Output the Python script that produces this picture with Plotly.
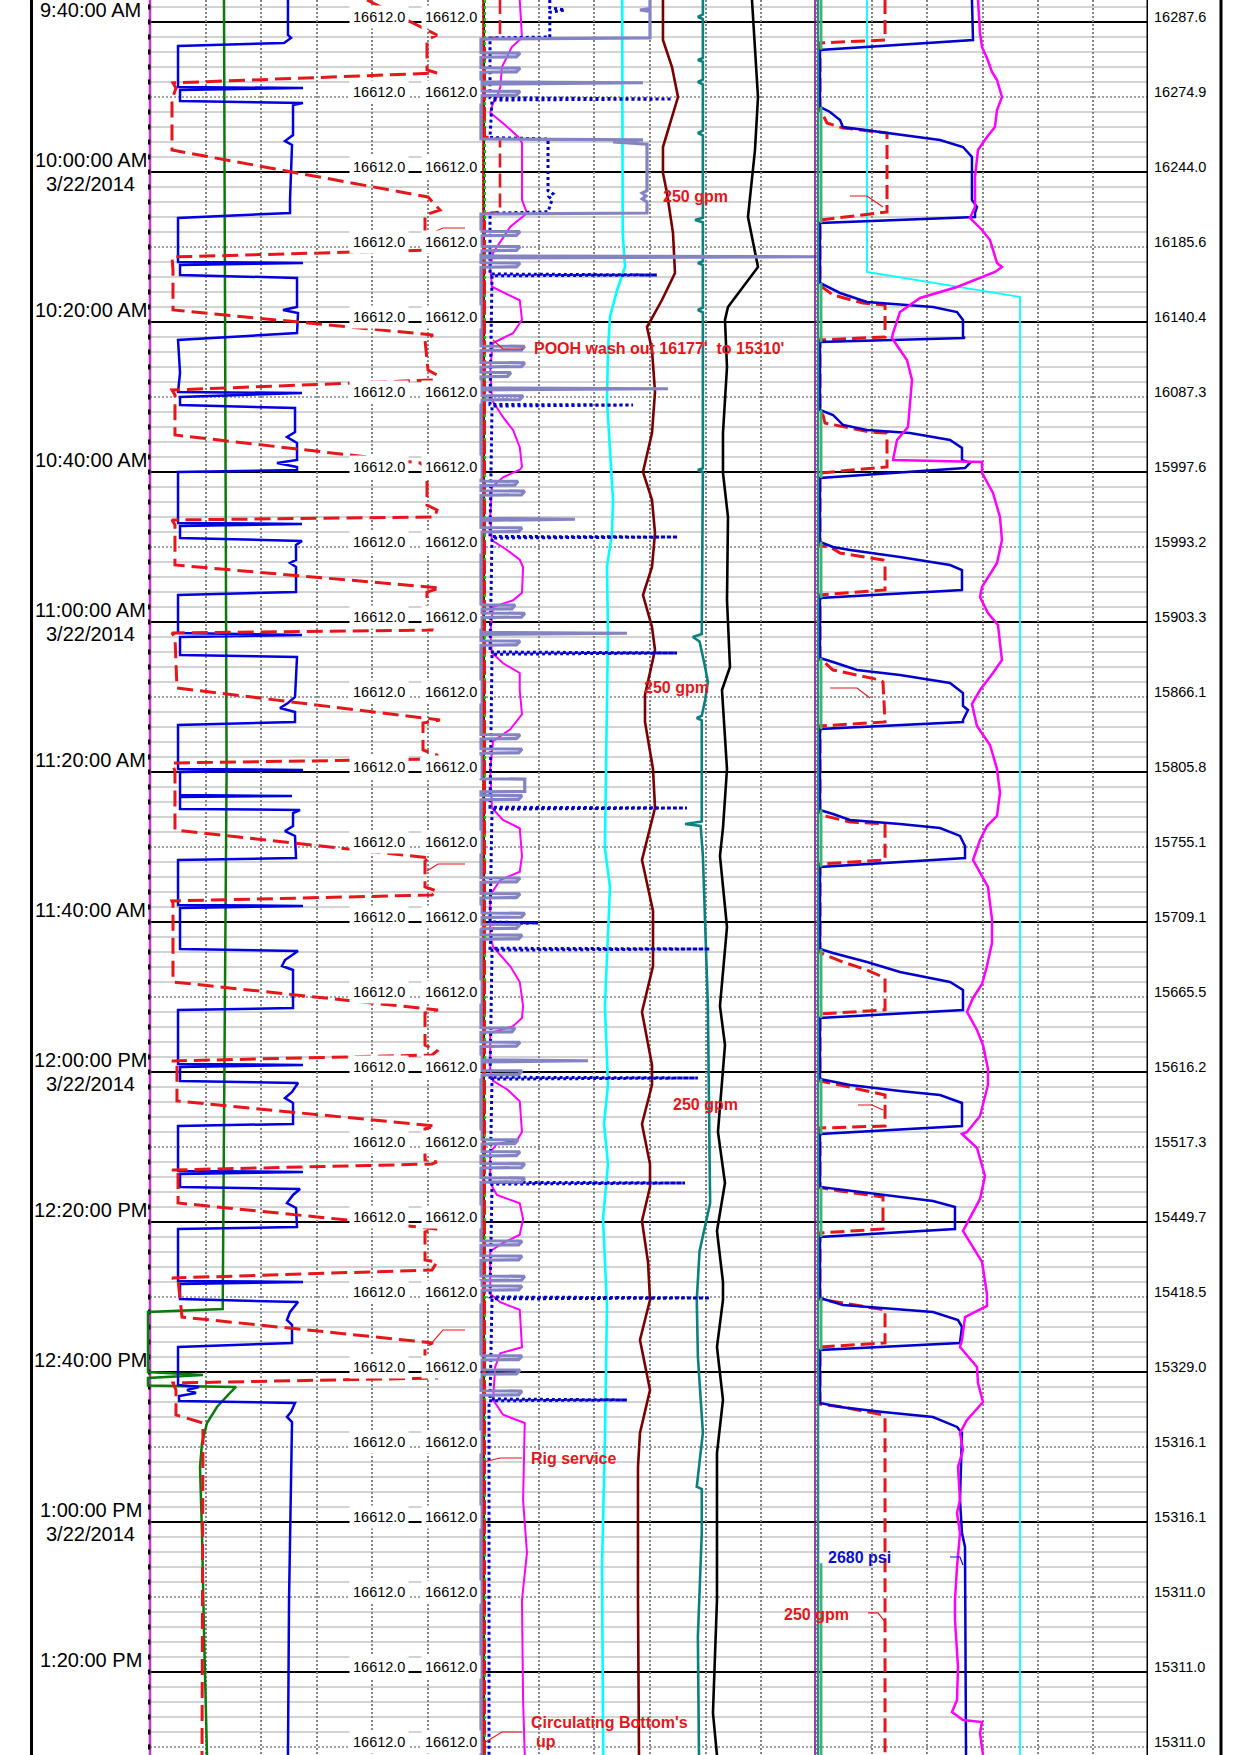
import plotly.graph_objects as go

# ---------------------------------------------------------------------------
# Time is expressed in minutes after 9:40:00 AM (3/22/2014); the page shows
# roughly 9:37 AM .. 1:31 PM.  Each track uses 0-60 units (10 per grid division).
# ---------------------------------------------------------------------------
T_TOP = -2.933
T_BOTTOM = 231.07

time_label_min = [0, 20, 40, 60, 80, 100, 120, 140, 160, 180, 200, 220]
time_label_text = ["9:40:00 AM", "10:00:00 AM", "10:20:00 AM", "10:40:00 AM",
                   "11:00:00 AM", "11:20:00 AM", "11:40:00 AM", "12:00:00 PM",
                   "12:20:00 PM", "12:40:00 PM", "1:00:00 PM", "1:20:00 PM"]
date_label_text = ["", "3/22/2014", "", "", "3/22/2014", "", "", "3/22/2014",
                   "", "", "3/22/2014", ""]

depth_label_min = [0, 10, 20, 30, 40, 50, 60, 70, 80, 90, 100, 110, 120, 130,
                   140, 150, 160, 170, 180, 190, 200, 210, 220, 230]
bit_depth = [16287.6, 16274.9, 16244.0, 16185.6, 16140.4, 16087.3, 15997.6,
             15993.2, 15903.3, 15866.1, 15805.8, 15755.1, 15709.1, 15665.5,
             15616.2, 15517.3, 15449.7, 15418.5, 15329.0, 15316.1, 15316.1,
             15311.0, 15311.0, 15311.0]
hole_depth_a = [16612.0, 16612.0, 16612.0, 16612.0, 16612.0, 16612.0, 16612.0,
                16612.0, 16612.0, 16612.0, 16612.0, 16612.0, 16612.0, 16612.0,
                16612.0, 16612.0, 16612.0, 16612.0, 16612.0, 16612.0, 16612.0,
                16612.0, 16612.0, 16612.0]
hole_depth_b = [16612.0, 16612.0, 16612.0, 16612.0, 16612.0, 16612.0, 16612.0,
                16612.0, 16612.0, 16612.0, 16612.0, 16612.0, 16612.0, 16612.0,
                16612.0, 16612.0, 16612.0, 16612.0, 16612.0, 16612.0, 16612.0,
                16612.0, 16612.0, 16612.0]

# ---------------------------- Track 1 curves (minute, value) ---------------
trk1_edge = [(T_TOP, 0.0), (T_BOTTOM, 0.0)]

trk1_green = [(-2.93, 13.33), (40, 13.5), (80, 13.6), (100, 13.8), (130, 13.5),
              (160, 13.3), (171.6, 13.1), (172.0, -0.36), (180.0, -0.36),
              (180.4, 9.55), (180.8, -0.36), (181.8, -0.36), (182.0, 15.5),
              (182.8, 14.41), (184.67, 12.07), (186.8, 10.27), (189.47, 9.37),
              (192.67, 9.01), (201.47, 9.37), (214.8, 9.73), (231.07, 10.27)]

trk1_blue = [(-2.93, 24.86), (1.73, 24.86), (2.13, 25.41), (2.8, 24.14), (3.2, 5.05),
             (8.67, 5.05), (8.8, 27.57), (9.07, 5.41), (10.53, 5.41), (10.8, 27.57),
             (11.07, 25.77), (15.07, 25.77), (15.87, 24.32), (16.4, 25.59),
             (23.73, 25.23), (25.47, 25.23), (26.13, 5.05), (32.0, 5.05),
             (32.13, 27.57), (32.4, 5.41), (33.73, 5.41), (34.13, 26.49),
             (38.0, 26.49), (38.4, 23.96), (38.8, 26.67), (41.47, 26.49),
             (42.4, 5.05), (46.8, 5.41), (49.33, 5.05), (49.47, 27.39), (50.0, 5.41),
             (51.07, 5.41), (51.47, 26.13), (54.67, 26.13), (55.33, 24.68),
             (56.13, 26.49), (58.4, 26.49), (58.8, 22.88), (59.33, 26.49),
             (59.73, 26.49), (60.0, 5.05), (66.8, 5.05), (66.93, 27.39), (67.2, 5.41),
             (68.8, 5.41), (69.2, 27.39), (69.73, 26.31), (71.73, 26.31),
             (72.13, 25.23), (72.67, 26.31), (76.0, 26.31), (76.4, 5.05),
             (81.47, 5.05), (81.73, 27.39), (82.0, 5.41), (84.4, 5.41), (84.67, 26.49),
             (90.0, 26.13), (90.8, 24.86), (91.47, 23.42), (92.0, 26.13),
             (93.33, 26.13), (93.73, 5.05), (99.6, 5.05), (99.73, 27.57),
             (100.0, 5.41), (103.07, 5.41), (103.2, 25.59), (103.33, 5.41),
             (104.93, 5.41), (105.07, 27.03), (105.47, 25.77), (107.2, 25.77),
             (107.87, 24.32), (108.53, 26.13), (111.47, 26.31), (111.73, 5.05),
             (117.73, 5.05), (117.87, 27.57), (118.13, 5.41), (123.6, 5.41),
             (123.87, 26.67), (125.07, 24.32), (125.87, 23.78), (126.4, 25.77),
             (131.47, 25.77), (131.73, 5.05), (138.93, 5.05), (139.07, 27.57),
             (139.33, 5.41), (141.2, 5.41), (141.47, 26.67), (142.67, 25.59),
             (143.47, 24.32), (144.13, 25.77), (146.93, 25.77), (147.2, 5.05),
             (153.2, 5.05), (153.33, 27.57), (153.6, 5.41), (155.33, 5.41),
             (155.6, 27.03), (156.4, 25.77), (157.47, 24.68), (158.13, 26.31),
             (160.67, 26.49), (160.93, 5.05), (167.87, 5.05), (168.0, 27.57),
             (168.27, 5.41), (170.27, 5.41), (170.67, 26.67), (172.0, 25.23),
             (173.07, 24.68), (173.73, 25.59), (176.13, 25.59), (176.67, 5.05),
             (181.73, 5.05), (182.0, 8.83), (182.4, 6.67), (182.8, 8.29),
             (183.2, 5.23), (183.87, 5.23), (184.13, 26.13), (185.33, 25.41),
             (186.0, 24.68), (186.67, 25.59), (197.07, 25.41), (210.4, 25.05),
             (231.07, 24.86)]

trk1_red = [(-2.93, 39.1), (1.73, 51.71), (2.4, 49.91), (6.4, 49.91), (6.8, 51.71),
            (8.13, 4.14), (8.8, 4.68), (10.4, 3.96), (17.07, 3.96), (23.33, 50.09),
            (25.07, 52.25), (25.73, 49.55), (29.07, 49.55), (30.4, 50.99),
            (31.33, 3.96), (33.07, 4.14), (38.4, 4.14), (41.73, 50.99), (42.4, 49.55),
            (46.4, 50.09), (47.07, 51.71), (47.73, 50.99), (49.07, 3.96), (49.73, 4.5),
            (55.07, 4.5), (58.8, 48.65), (59.47, 49.91), (64.4, 49.91), (65.07, 51.71),
            (66.0, 51.35), (66.4, 3.96), (67.07, 4.5), (72.4, 4.5), (75.47, 52.25),
            (76.0, 49.91), (80.4, 49.91), (81.07, 50.99), (81.47, 3.96), (82.0, 4.5),
            (88.8, 4.86), (93.07, 52.25), (93.47, 49.19), (97.07, 49.19),
            (97.73, 51.71), (98.27, 51.71), (98.8, 3.96), (99.87, 4.5), (107.73, 4.5),
            (111.47, 50.45), (111.87, 49.55), (115.33, 49.55), (115.87, 51.71),
            (116.4, 50.81), (117.2, 3.96), (117.47, 4.14), (128.0, 4.14),
            (131.73, 51.89), (132.13, 49.55), (136.4, 49.55), (137.2, 51.71),
            (137.73, 50.81), (138.53, 3.96), (138.8, 4.86), (143.87, 4.86),
            (147.2, 51.35), (147.6, 49.55), (151.73, 49.55), (152.0, 51.71),
            (152.27, 50.81), (153.07, 3.96), (153.33, 5.05), (157.47, 5.05),
            (160.93, 51.71), (161.33, 49.55), (165.07, 49.55), (165.33, 51.71),
            (166.4, 50.81), (167.47, 3.96), (167.73, 5.05), (172.67, 5.77),
            (176.13, 50.99), (176.53, 49.55), (179.73, 49.55), (180.8, 51.89),
            (181.47, 4.14), (182.4, 4.68), (185.73, 4.68), (186.8, 9.55),
            (231.07, 9.37)]

# ---------------------------- Track 2 curves -------------------------------
trk2_red_dash = [(-2.93, 3.05), (2.0, 3.05), (2.3, 0.3), (15.3, 0.3), (15.6, 3.05),
                 (25.3, 3.05), (25.6, 0.3), (231.07, 0.3)]
trk2_edge_red = [(T_TOP, 0.0), (T_BOTTOM, 0.0)]
trk2_edge_black = [(T_TOP, 0.2), (T_BOTTOM, 0.2)]
trk2_edge_green = [(T_TOP, 0.35), (T_BOTTOM, 0.35)]

trk2_cyan = [(-2.93, 25.0), (10.0, 25.0), (14.8, 25.1), (28.13, 25.1), (32.67, 25.5),
             (35.8, 24.07), (39.3, 22.81), (43.73, 22.45), (50.4, 22.27),
             (57.07, 22.81), (63.73, 23.35), (68.13, 23.17), (72.67, 22.27),
             (81.47, 22.45), (90.4, 22.27), (110.13, 21.9), (115.33, 22.81),
             (131.2, 21.9), (141.73, 22.45), (146.93, 21.74), (152.27, 22.45),
             (159.6, 21.56), (171.2, 22.27), (188.13, 21.92), (206.0, 21.38),
             (228.13, 21.56), (231.07, 21.6)]

trk2_maroon = [(-2.93, 32.33), (2.4, 32.33), (6.0, 33.95), (10.0, 35.03), (16.67, 32.33),
               (20.13, 32.33), (22.8, 33.05), (28.13, 34.13), (33.47, 34.49),
               (37.07, 32.15), (40.67, 29.46), (43.73, 30.36), (49.33, 30.9),
               (54.8, 30.36), (60.0, 28.74), (63.73, 30.36), (68.13, 30.9),
               (72.67, 30.36), (76.4, 28.74), (80.67, 30.36), (83.73, 30.9),
               (89.73, 29.1), (93.33, 29.1), (99.6, 30.54), (104.8, 30.9),
               (111.73, 28.56), (118.53, 30.54), (125.87, 30.54), (132.0, 28.56),
               (139.07, 30.36), (141.73, 30.36), (146.93, 28.56), (152.27, 30.0),
               (155.33, 30.0), (159.87, 28.56), (165.33, 29.64), (170.4, 30.0),
               (175.73, 28.2), (182.4, 30.0), (188.13, 28.2), (192.67, 27.84),
               (210.4, 27.84), (231.07, 28.02)]

trk2_teal = [(-2.93, 39.5), (-1.0, 39.5), (-0.67, 38.6), (-0.4, 39.5), (4.8, 39.5),
             (5.07, 38.6), (5.3, 39.5), (7.7, 39.5), (8.0, 38.6), (8.3, 39.5),
             (14.5, 39.5), (14.8, 38.6), (15.1, 39.5), (26.1, 39.5), (26.4, 38.1),
             (26.7, 39.5), (31.9, 39.5), (32.13, 38.6), (32.4, 39.5), (38.1, 39.5),
             (38.4, 38.6), (38.7, 39.5), (59.5, 39.5), (59.73, 38.6), (60.0, 39.5),
             (81.6, 39.3), (82.0, 37.7), (82.6, 38.9), (86.0, 39.9), (88.0, 40.4),
             (90.4, 39.9), (92.5, 39.3), (92.8, 38.4), (93.1, 39.3), (106.6, 39.3),
             (106.93, 36.3), (107.2, 39.1), (111.2, 39.5), (131.2, 40.4),
             (157.5, 40.8), (163.9, 38.9), (170.4, 38.4), (177.9, 38.6), (188.1, 39.5),
             (195.3, 38.4), (195.6, 39.3), (201.5, 39.3), (215.3, 38.6), (231.07, 38.8)]

trk2_black = [(-2.93, 48.32), (10.0, 49.4), (17.07, 48.86), (26.0, 47.6), (32.67, 49.4),
              (35.33, 46.7), (38.0, 44.01), (39.73, 43.47), (46.0, 43.83),
              (54.8, 43.11), (60.13, 43.11), (66.0, 44.01), (77.07, 43.83),
              (86.0, 44.37), (89.07, 42.93), (99.6, 43.83), (107.47, 43.11),
              (111.2, 42.57), (120.67, 43.83), (131.2, 42.57), (136.4, 43.47),
              (148.0, 42.21), (154.8, 43.47), (161.2, 42.03), (168.0, 43.11),
              (170.4, 43.11), (176.67, 42.03), (183.73, 43.11), (190.8, 42.03),
              (210.4, 42.03), (225.47, 41.31), (231.07, 42.03)]

trk2_magenta = [(-2.93, 6.6), (2.1, 7.0), (3.3, 5.2), (4.4, 4.5), (6.0, 3.4), (8.7, 3.1),
                (10.0, 2.5), (10.8, 1.8), (12.1, 1.3), (13.5, 3.6), (15.3, 6.3),
                (16.1, 7.0), (23.7, 7.0), (25.5, 7.9), (27.3, 4.9), (30.8, 1.8),
                (32.7, 1.3), (35.3, 1.6), (37.1, 6.6), (39.7, 7.0), (41.5, 5.4),
                (42.8, 1.8), (46.0, 1.3), (50.4, 1.6), (52.7, 3.6), (54.4, 5.4),
                (56.7, 6.6), (59.3, 7.0), (59.7, 6.6), (60.7, 3.6), (62.0, 1.6),
                (66.0, 1.3), (69.1, 1.6), (70.4, 4.3), (71.7, 6.6), (72.7, 7.2),
                (76.1, 7.0), (77.1, 5.4), (78.0, 1.8), (81.5, 1.3), (84.1, 1.6),
                (85.5, 3.6), (86.8, 6.6), (89.1, 6.6), (92.3, 7.0), (94.3, 4.9),
                (95.9, 1.8), (99.6, 1.3), (104.8, 1.6), (106.4, 3.6), (107.5, 6.6),
                (111.2, 7.0), (113.3, 6.6), (114.4, 3.1), (116.4, 1.3), (121.7, 1.3),
                (123.3, 1.8), (125.9, 4.9), (128.0, 6.6), (131.2, 7.2), (132.8, 7.0),
                (133.9, 5.4), (134.8, 1.3), (139.6, 1.3), (141.2, 1.8), (142.3, 4.3),
                (143.9, 6.6), (148.0, 7.0), (149.1, 6.1), (149.6, 2.5), (150.7, 1.3),
                (154.8, 1.3), (156.4, 2.5), (157.5, 6.6), (159.6, 7.2), (161.7, 6.6),
                (162.8, 3.6), (163.9, 1.3), (169.6, 1.3), (170.7, 3.1), (171.7, 6.6),
                (176.7, 7.0), (177.5, 3.1), (179.3, 2.2), (183.7, 1.8), (185.7, 3.6),
                (186.8, 7.5), (197.1, 7.2), (204.1, 7.9), (210.4, 7.0), (223.7, 7.2),
                (231.07, 7.5)]

trk2_blue_dot = [(-2.93, 12.0), (-1.9, 12.0), (-1.6, 14.7), (-1.3, 12.0), (2.0, 12.0),
                 (2.13, 1.26), (10.1, 1.26), (10.27, 33.95), (10.4, 1.62), (15.4, 1.26),
                 (15.6, 11.68), (22.5, 11.68), (22.9, 12.57), (23.3, 11.86),
                 (23.7, 12.4), (25.3, 11.68), (25.5, 1.26), (33.6, 1.26),
                 (33.73, 31.25), (33.85, 1.62), (51.0, 1.26), (51.07, 26.94),
                 (51.2, 1.62), (68.6, 1.26), (68.67, 35.03), (68.8, 1.62), (84.0, 1.26),
                 (84.13, 34.85), (84.3, 1.62), (104.7, 1.26), (104.8, 36.64),
                 (104.95, 1.62), (120.0, 1.26), (120.13, 9.88), (120.25, 1.62),
                 (123.5, 1.26), (123.6, 40.77), (123.75, 1.62), (140.7, 1.26),
                 (140.8, 38.61), (140.95, 1.62), (154.7, 1.26), (154.8, 36.28),
                 (154.95, 1.62), (170.0, 1.26), (170.13, 40.77), (170.25, 1.62),
                 (183.6, 1.26), (183.73, 25.87), (183.85, 1.08), (231.07, 1.08)]

trk2_slate = [(-2.93, 30.0), (-1.8, 30.0), (-1.6, 28.2), (-1.4, 30.0), (2.13, 30.0),
              (2.27, -0.36),
              (4.1, -0.36), (4.15, 6.65), (4.65, 6.0), (4.7, -0.36),
              (6.1, -0.36), (6.15, 6.65), (6.65, 6.0), (6.7, -0.36),
              (8.0, -0.36), (8.1, 28.74), (8.3, -0.36),
              (9.2, -0.36), (9.25, 6.65), (9.75, 6.0), (9.8, -0.36),
              (15.6, -0.36), (15.73, 28.74), (16.0, 23.35), (16.3, 29.46),
              (22.5, 29.46), (22.8, 28.6), (23.2, 29.3), (23.6, 28.6), (24.0, 29.46),
              (25.47, 29.46), (25.6, -0.36),
              (27.9, -0.36), (27.95, 6.65), (28.45, 6.0), (28.5, -0.36),
              (29.9, -0.36), (29.95, 6.65), (30.45, 6.0), (30.5, -0.36),
              (31.2, -0.36), (31.3, 60.1), (31.45, -0.36),
              (32.1, -0.36), (32.15, 6.65), (32.65, 6.0), (32.7, -0.36),
              (43.2, -0.36), (43.25, 7.5), (43.75, 6.9), (43.8, -0.36),
              (45.4, -0.36), (45.45, 7.5), (45.95, 6.9), (46.0, -0.36),
              (46.7, -0.36), (46.75, 5.0), (47.25, 4.4), (47.3, -0.36),
              (48.8, -0.36), (48.9, 33.23), (49.05, -0.36),
              (49.8, -0.36), (49.85, 7.19), (50.35, 6.6), (50.4, -0.36),
              (61.2, -0.36), (61.25, 6.29), (61.75, 5.7), (61.8, -0.36),
              (62.5, -0.36), (62.55, 7.5), (63.05, 6.9), (63.1, -0.36),
              (66.2, -0.36), (66.3, 16.53), (66.45, -0.36),
              (67.4, -0.36), (67.45, 7.01), (67.95, 6.4), (68.0, -0.36),
              (77.7, -0.36), (77.75, 5.75), (78.25, 5.2), (78.3, -0.36),
              (78.8, -0.36), (78.85, 7.5), (79.35, 6.9), (79.4, -0.36),
              (81.4, -0.36), (81.5, 25.87), (81.65, -0.36),
              (82.5, -0.36), (82.55, 6.65), (83.05, 6.0), (83.1, -0.36),
              (95.0, -0.36), (95.05, 6.65), (95.55, 6.0), (95.6, -0.36),
              (96.9, -0.36), (96.95, 7.01), (97.45, 6.4), (97.5, -0.36),
              (100.9, -0.36), (100.95, 7.5), (102.6, 7.5), (102.65, -0.36),
              (103.1, -0.36), (103.15, 7.01), (103.65, 6.4), (103.7, -0.36),
              (114.1, -0.36), (114.15, 6.65), (114.65, 6.0), (114.7, -0.36),
              (116.2, -0.36), (116.25, 6.65), (116.75, 6.0), (116.8, -0.36),
              (118.8, -0.36), (118.85, 7.5), (119.35, 6.9), (119.4, -0.36),
              (120.3, -0.36), (120.35, 6.65), (120.85, 6.0), (120.9, -0.36),
              (121.7, -0.36), (121.75, 7.01), (122.25, 6.4), (122.3, -0.36),
              (134.1, -0.36), (134.15, 5.75), (134.65, 5.2), (134.7, -0.36),
              (136.0, -0.36), (136.05, 6.65), (136.55, 6.0), (136.6, -0.36),
              (138.4, -0.36), (138.5, 18.86), (138.65, -0.36),
              (139.8, -0.36), (139.85, 7.01), (140.35, 6.4), (140.4, -0.36),
              (149.0, -0.36), (149.05, 6.29), (149.55, 5.7), (149.6, -0.36),
              (150.6, -0.36), (150.65, 6.65), (151.15, 6.0), (151.2, -0.36),
              (152.2, -0.36), (152.25, 7.5), (152.75, 6.9), (152.8, -0.36),
              (154.1, -0.36), (154.15, 7.5), (154.65, 6.9), (154.7, -0.36),
              (162.5, -0.36), (162.55, 7.01), (163.05, 6.4), (163.1, -0.36),
              (164.5, -0.36), (164.55, 7.01), (165.05, 6.4), (165.1, -0.36),
              (167.2, -0.36), (167.25, 7.5), (167.75, 6.9), (167.8, -0.36),
              (168.5, -0.36), (168.55, 7.01), (169.05, 6.4), (169.1, -0.36),
              (177.8, -0.36), (177.85, 7.01), (178.35, 6.4), (178.4, -0.36),
              (179.7, -0.36), (179.75, 6.65), (180.25, 6.0), (180.3, -0.36),
              (182.5, -0.36), (182.55, 7.01), (183.05, 6.4), (183.1, -0.36),
              (231.07, -0.36)]

# ---------------------------- Track 3 curves -------------------------------
trk3_cyan = [(-2.93, 9.06), (33.33, 9.06), (36.67, 36.8), (231.07, 36.8)]

trk3_blue = [(-2.93, 28.09), (1.07, 28.28), (2.4, 28.28), (3.73, 0.54),
             (11.33, 0.54), (12.0, 2.36), (13.07, 4.17), (14.0, 4.71), (15.07, 15.04),
             (15.73, 22.3), (16.67, 26.46), (18.0, 28.09), (23.73, 28.09), (24.67, 29.0),
             (25.47, 28.64), (26.0, 28.64), (26.8, 0.54),
             (34.8, 0.54), (36.13, 4.17), (37.33, 9.06), (38.0, 21.03), (38.67, 25.38),
             (39.73, 26.46), (42.0, 26.46), (42.13, 26.83), (42.67, 0.54),
             (51.73, 0.54), (52.4, 2.9), (53.73, 4.71), (54.4, 9.06), (54.8, 16.86),
             (55.73, 24.11), (56.8, 26.28), (58.4, 26.28), (58.8, 27.73),
             (59.47, 26.83), (60.8, 0.54),
             (69.33, 0.54), (70.0, 2.9), (70.4, 5.98), (71.33, 15.04), (72.4, 24.11),
             (73.07, 26.28), (75.73, 26.28), (76.8, 0.54),
             (84.8, 0.54), (85.33, 2.9), (86.4, 7.25), (87.07, 15.04), (88.13, 24.11),
             (89.47, 26.46), (91.2, 26.46), (91.73, 27.37), (93.07, 26.46),
             (93.33, 26.46), (94.27, 0.54),
             (105.07, 0.54), (105.6, 2.9), (106.4, 5.98), (106.93, 15.04),
             (107.47, 22.3), (108.53, 25.92), (109.87, 26.83), (111.47, 26.83),
             (112.67, 0.54),
             (123.6, 0.54), (124.13, 2.9), (125.33, 9.06), (126.67, 15.04),
             (128.0, 24.11), (129.07, 26.46), (131.73, 26.46), (132.8, 0.54),
             (140.93, 0.54), (141.73, 5.98), (142.53, 15.04), (143.07, 22.3),
             (144.13, 26.28), (147.2, 26.28), (148.27, 0.54),
             (155.33, 0.54), (156.13, 9.06), (157.2, 21.03), (158.0, 25.01),
             (160.93, 25.01), (162.0, 0.54),
             (170.13, 0.54), (171.07, 4.71), (171.47, 11.96), (172.0, 21.03),
             (173.07, 25.56), (174.0, 26.28), (176.13, 25.92), (177.07, 0.54),
             (184.13, 0.54), (184.67, 4.17), (185.33, 11.96), (186.0, 21.03),
             (187.33, 25.38), (188.13, 26.28), (197.07, 25.92), (201.47, 26.28),
             (203.33, 26.83), (231.07, 27.01)]

trk3_red = [(-2.93, 12.33), (2.4, 12.33), (2.8, 0.54),
            (11.8, 0.54), (12.13, 0.91), (13.47, 1.81), (14.13, 4.71), (14.8, 12.69),
            (25.33, 12.69), (26.4, 0.54),
            (35.0, 0.54), (35.33, 0.91), (36.4, 2.9), (37.47, 8.34), (37.73, 12.33),
            (42.0, 12.33), (42.4, 0.54),
            (52.0, 0.54), (52.4, 1.09), (53.47, 1.45), (54.67, 9.61), (54.8, 12.69),
            (59.33, 12.69), (60.13, 0.54),
            (69.8, 0.54), (70.13, 2.72), (70.8, 4.17), (71.73, 11.96), (72.0, 12.33),
            (75.73, 12.33), (76.4, 0.54),
            (85.0, 0.54), (85.47, 1.45), (86.4, 2.9), (87.73, 11.42), (88.0, 11.96),
            (93.33, 12.33), (93.87, 0.54),
            (105.4, 0.54), (105.87, 1.45), (106.67, 5.98), (106.93, 12.33),
            (111.73, 12.33), (112.27, 0.54),
            (124.0, 0.54), (124.4, 1.45), (125.33, 4.71), (126.4, 9.06),
            (127.47, 12.33), (131.73, 12.33), (132.27, 0.54),
            (141.2, 0.54), (141.73, 4.17), (143.07, 12.33), (147.2, 12.33),
            (147.47, 0.54),
            (155.4, 0.54), (155.87, 4.17), (156.67, 11.96), (160.93, 11.96),
            (161.47, 0.54),
            (170.3, 0.54), (170.8, 4.71), (171.73, 12.33), (176.13, 12.33),
            (176.67, 0.54),
            (184.3, 0.54), (184.67, 4.71), (185.73, 11.96), (186.13, 12.33),
            (231.07, 12.33)]

trk3_magenta = [(-2.93, 29.18), (1.47, 29.55), (3.33, 29.91), (4.8, 30.81), (6.67, 31.72),
                (7.73, 32.63), (10.0, 33.53), (11.73, 32.63), (14.0, 32.26),
                (15.33, 30.81), (17.07, 29.18), (20.67, 28.64), (24.67, 28.64),
                (26.13, 27.73), (27.73, 29.91), (29.07, 31.36), (32.13, 32.63),
                (32.67, 33.53), (33.33, 32.26), (35.33, 25.38), (36.8, 18.67),
                (38.67, 15.04), (41.47, 13.78), (42.13, 13.59), (43.33, 14.68),
                (45.07, 16.31), (47.73, 17.22), (50.4, 16.86), (54.0, 16.49),
                (55.73, 14.5), (58.4, 13.78), (58.67, 29.91), (60.13, 29.91),
                (62.8, 31.9), (66.0, 33.17), (69.07, 33.53), (72.13, 32.63),
                (75.33, 29.91), (76.67, 29.55), (78.8, 30.99), (80.4, 32.81),
                (82.8, 33.17), (85.07, 33.53), (86.8, 31.9), (89.07, 29.55),
                (90.93, 28.09), (93.87, 29.0), (96.4, 31.36), (99.6, 32.63),
                (102.8, 33.17), (105.87, 32.63), (107.2, 30.81), (109.07, 29.55),
                (111.73, 28.28), (113.33, 29.55), (115.33, 30.99), (119.6, 31.72),
                (122.8, 31.72), (125.87, 30.81), (128.27, 29.91), (130.13, 28.28),
                (132.0, 27.19), (134.4, 29.0), (136.4, 30.09), (139.6, 30.99),
                (141.73, 30.99), (145.87, 29.55), (148.0, 27.19), (148.27, 26.28),
                (150.13, 29.0), (153.87, 30.45), (156.93, 29.55), (161.2, 26.46),
                (163.33, 28.28), (165.33, 29.91), (169.6, 30.81), (171.2, 30.81),
                (172.67, 26.83), (175.73, 26.28), (176.67, 25.92), (179.33, 29.0),
                (181.47, 29.18), (184.0, 30.09), (186.4, 27.19), (188.13, 25.92),
                (190.4, 26.46), (192.67, 25.56), (197.07, 25.92), (198.8, 25.38),
                (201.47, 25.92), (206.0, 25.38), (210.4, 25.01), (213.07, 25.01),
                (219.33, 25.56), (223.73, 25.38), (225.33, 24.47), (226.4, 26.46),
                (226.67, 29.91), (228.13, 29.55), (231.07, 30.09)]

trk3_edge_purple = [(T_TOP, -0.36), (T_BOTTOM, -0.36)]
trk3_edge_teal = [(T_TOP, 0.2), (T_BOTTOM, 0.2)]
trk3_pump_on = [(-2.93, 3.7), (11.3, 26.8), (34.8, 42.7), (51.7, 60.8), (69.3, 76.8),
                (84.8, 94.3), (105.0, 112.7), (123.6, 132.8), (140.9, 148.3),
                (155.3, 162.0), (170.1, 177.1), (205.5, 231.07)]

# ---------------------------- Callouts --------------------------------------
RED = "#e6161b"
BLUE_TXT = "#0a10d0"
callout_text = [
    ("x3", -1.98, 27.47, "Stand #5 out", RED),
    ("x3", 8.98, 43.6, "POOH wash out 16177'\u00a0 to 15310'", RED),
    ("x3", 32.15, 23.33, "250 gpm", RED),
    ("x3", 28.74, 88.8, "250 gpm", RED),
    ("x3", -1.8, 112.27, "Stand #10 out", RED),
    ("x3", 33.95, 144.27, "250 gpm", RED),
    ("x3", -1.8, 174.4, "Stand #14 out", RED),
    ("x3", 8.44, 191.47, "Rig service", RED),
    ("x3", 8.44, 226.67, "Circulating Bottom's", RED),
    ("x3", 9.34, 229.33, "up", RED),
    ("x4", 1.81, 204.67, "2680 psi", BLUE_TXT),
    ("x3", 53.89, 212.4, "250 gpm", RED),
]
callout_lines = [
    ("x2", [(27.47, 56.76), (27.47, 52.79), (28.53, 49.55)], RED),
    ("x3", [(43.6, 7.19), (43.6, 3.59), (42.4, 1.8)], RED),
    ("x4", [(23.2, 5.98), (23.2, 9.06), (24.67, 11.96)], RED),
    ("x4", [(88.8, 2.36), (88.8, 7.25), (90.13, 9.61)], RED),
    ("x2", [(112.27, 56.76), (112.27, 51.9), (113.2, 49.9)], RED),
    ("x4", [(144.4, 7.43), (144.4, 9.97), (145.07, 11.96)], RED),
    ("x2", [(174.4, 56.76), (174.4, 52.79), (176.4, 50.45)], RED),
    ("x3", [(191.47, 7.01), (191.47, 3.05), (192.0, 0.18)], RED),
    ("x3", [(228.0, 7.01), (228.0, 3.41), (229.47, 0.18)], RED),
    ("x4", [(204.67, 24.11), (204.67, 25.92), (205.73, 26.46)], BLUE_TXT),
    ("x4", [(212.13, 9.24), (212.13, 11.06), (213.33, 12.33)], RED),
]

# ===========================================================================
W, H = 1240, 1755
FONT = "Liberation Sans, Arial, sans-serif"
fig = go.Figure()


def add(pairs, axis, **line):
    fig.add_trace(go.Scatter(x=[p[1] for p in pairs], y=[p[0] for p in pairs],
                             xaxis=axis, yaxis="y", mode="lines", line=line,
                             hoverinfo="skip", showlegend=False))


def hlines(minutes, **line):
    xs, ys = [], []
    for m in minutes:
        xs += [0, 1, None]
        ys += [m, m, None]
    fig.add_trace(go.Scatter(x=xs, y=ys, xaxis="x", yaxis="y", mode="lines",
                             line=line, hoverinfo="skip", showlegend=False))


# horizontal time grid (grid subplot, drawn first)
minor_min = [m for m in range(-2, 231, 2) if m % 10 != 0]
ten_min = [m for m in range(0, 231, 10) if m % 20 != 0]
twenty_min = list(range(0, 231, 20))
hlines(minor_min, color="#c4c4c4", width=1.5)
hlines(ten_min, color="#858585", width=1.5, dash="2px,2px")
hlines(twenty_min, color="#000000", width=2)

# Track 1
add(trk1_edge, "x2", color="#c23cc2", width=2.6)
fig.add_trace(go.Scatter(x=[-0.15, -0.15], y=[-2.333, T_BOTTOM], xaxis="x2", yaxis="y",
                         mode="lines", line=dict(color="black", width=2.4, dash="5px,10px"),
                         hoverinfo="skip", showlegend=False))
add(trk1_green, "x2", color="#0b7a0b", width=2.5)
add(trk1_blue, "x2", color="#0000e0", width=2.5)
add(trk1_red, "x2", color=RED, width=3, dash="16px,7px")

# Track 2
add(trk2_edge_black, "x3", color="black", width=1.5)
add(trk2_edge_red, "x3", color="#e00000", width=1.5)
add(trk2_edge_green, "x3", color="#00d000", width=2.2, dash="3px,3px")
add(trk2_red_dash, "x3", color=RED, width=2.6, dash="14px,6px")
add(trk2_cyan, "x3", color="#00ffff", width=2.6)
add(trk2_maroon, "x3", color="#7a0000", width=2.6)
add(trk2_teal, "x3", color="#0b8080", width=2.6)
add(trk2_black, "x3", color="#000000", width=2.6)
add(trk2_magenta, "x3", color="#ff00ff", width=2)
add(trk2_blue_dot, "x3", color="#0000cc", width=3, dash="dot")
add(trk2_slate, "x3", color="#8484c4", width=3.2)

# Track 3
add(trk3_cyan, "x4", color="#00ffff", width=1.8)
add(trk3_red, "x4", color=RED, width=3, dash="14px,6px")
add(trk3_blue, "x4", color="#0000cc", width=2.5)
add(trk3_magenta, "x4", color="#ff00ff", width=2.5)
add(trk3_edge_purple, "x4", color="#800080", width=1.5)
gx, gy = [], []
for a, b in trk3_pump_on:
    gx += [0.75, 0.75, None]
    gy += [a, b, None]
fig.add_trace(go.Scatter(x=gx, y=gy, xaxis="x4", yaxis="y", mode="lines",
                         line=dict(color="#3cb371", width=2.6), hoverinfo="skip",
                         showlegend=False))
add(trk3_edge_teal, "x4", color="#2a8a8a", width=2.4)

# callout pointer lines
for axis, pts, col in callout_lines:
    add(pts, axis, color=col, width=1.2)

# ------------------------------ annotations --------------------------------
ann = []
for m, txt, dt in zip(time_label_min, time_label_text, date_label_text):
    ann.append(dict(x=91 / W, xref="paper", y=m, yref="y", text=txt, showarrow=False,
                    xanchor="center", yanchor="bottom", borderpad=0,
                    font=dict(family=FONT, size=20, color="black")))
    if dt:
        ann.append(dict(x=91 / W, xref="paper", y=m, yref="y", text=dt, showarrow=False,
                        xanchor="center", yanchor="top", borderpad=0,
                        font=dict(family=FONT, size=20, color="black")))

for m, d in zip(depth_label_min, bit_depth):
    ann.append(dict(x=1152 / W, xref="paper", y=m, yref="y", text=f"{d:.1f}",
                    showarrow=False, xanchor="left", yanchor="middle", yshift=5,
                    font=dict(family=FONT, size=14.5, color="black")))

for m, a, b in zip(depth_label_min, hole_depth_a, hole_depth_b):
    for xpos, val in ((41.3, a), (54.15, b)):
        ann.append(dict(x=xpos, xref="x2", y=m, yref="y", text=f"{val:.1f}",
                        showarrow=False, xanchor="center", yanchor="middle", yshift=5,
                        bgcolor="white", borderpad=3,
                        font=dict(family=FONT, size=14.5, color="black")))

for axis, xv, tv, txt, col in callout_text:
    ann.append(dict(x=xv, xref=axis, y=tv, yref="y", text=f"<b>{txt}</b>",
                    showarrow=False, xanchor="left", yanchor="middle", borderpad=0,
                    font=dict(family=FONT, size=16, color=col)))

shapes = []
for px in (31.5, 1221.0):
    shapes.append(dict(type="line", xref="paper", yref="paper", x0=px / W, x1=px / W,
                       y0=0, y1=1, line=dict(color="black", width=3), layer="above"))
shapes.append(dict(type="line", xref="x4", yref="paper", x0=60, x1=60, y0=0, y1=1,
                   line=dict(color="black", width=3), layer="above"))

grid_style = dict(showgrid=True, gridcolor="#858585", gridwidth=1.5, griddash="2px,2px",
                  tick0=0, dtick=10, zeroline=False, showticklabels=False, ticks="",
                  showline=False, fixedrange=True, anchor="y")

fig.update_layout(
    width=W, height=H, margin=dict(l=0, r=0, t=0, b=0),
    paper_bgcolor="white", plot_bgcolor="rgba(0,0,0,0)", showlegend=False,
    xaxis=dict(domain=[150 / W, 1148 / W], range=[0, 1], visible=False, fixedrange=True,
               anchor="y"),
    xaxis2=dict(domain=[146 / W, 483 / W], range=[-0.7207, 60], **grid_style),
    xaxis3=dict(domain=[479 / W, 818 / W], range=[-0.7186, 60.18], **grid_style),
    xaxis4=dict(domain=[812 / W, 1148 / W], range=[-0.9063, 60], **grid_style),
    yaxis=dict(domain=[0, 1], range=[T_BOTTOM, T_TOP], visible=False, fixedrange=True),
    annotations=ann, shapes=shapes,
)

fig.write_html("out.html", config={"displayModeBar": False})
